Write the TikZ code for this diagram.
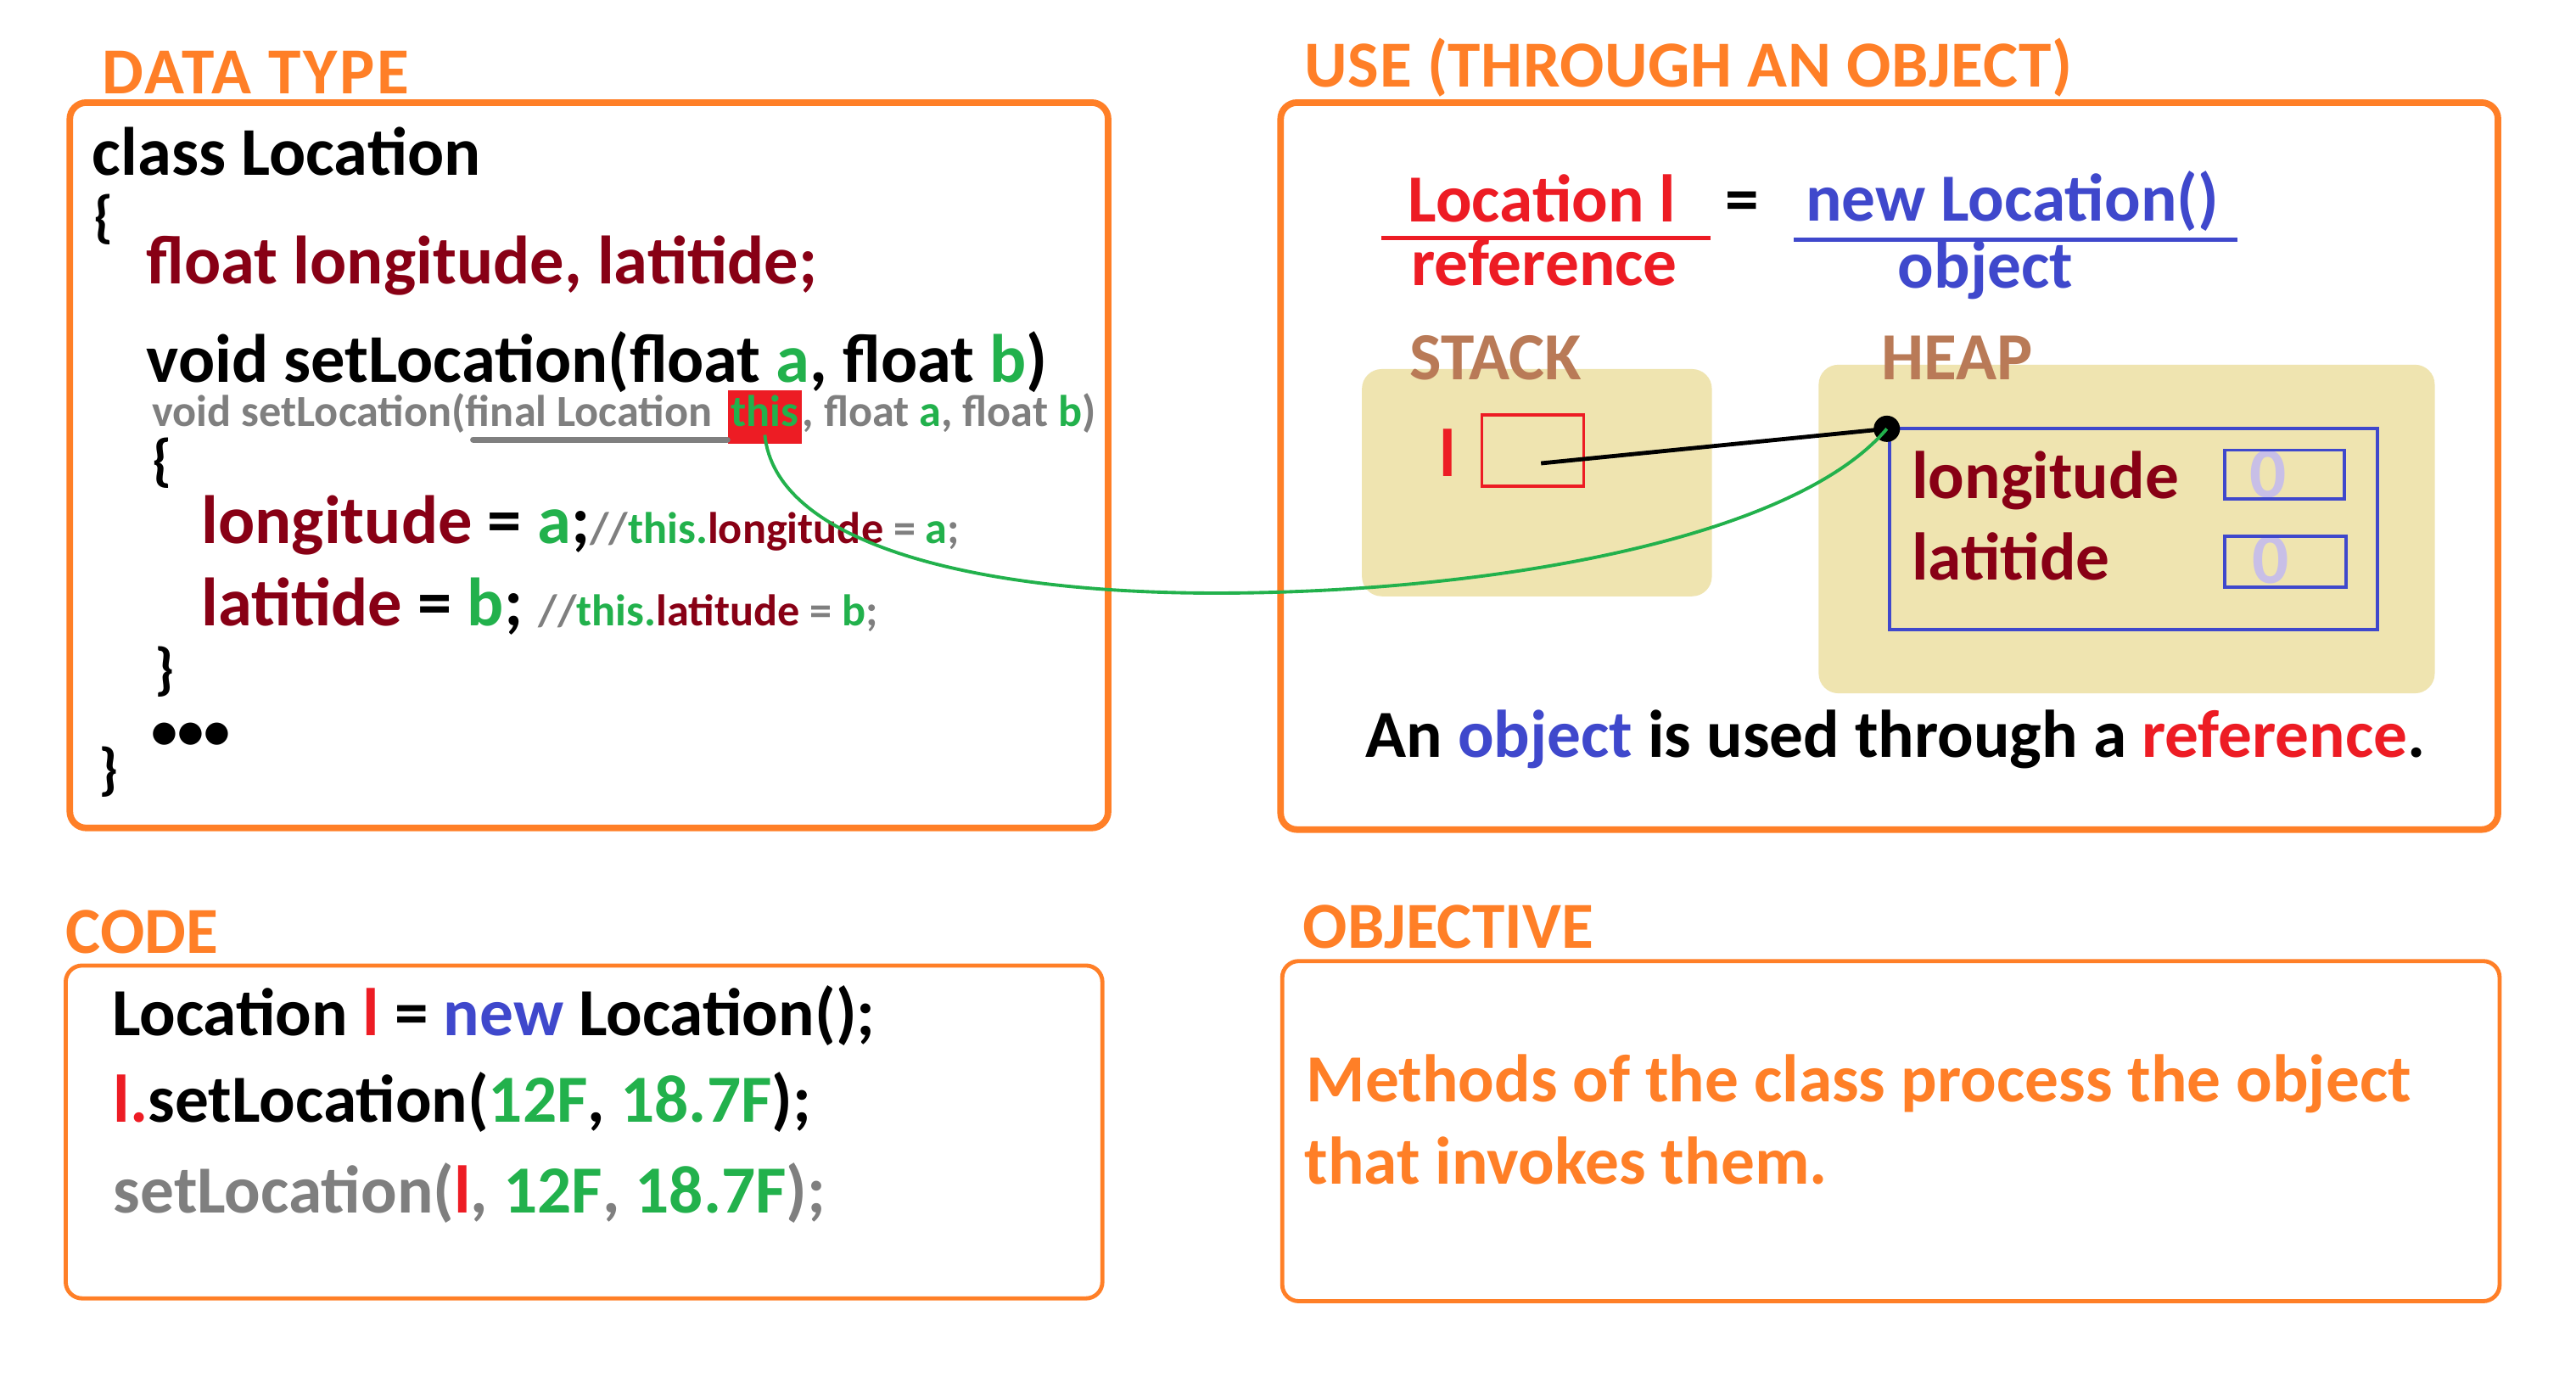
\documentclass[tikz,border=0pt]{standalone}
\usepackage{fontspec}
\setmainfont{Carlito}
\definecolor{orng}{RGB}{255,127,39}
\definecolor{pred}{RGB}{237,28,36}
\definecolor{pgreen}{RGB}{34,177,76}
\definecolor{dred}{RGB}{136,0,21}
\definecolor{indigo}{RGB}{63,72,204}
\definecolor{pgray}{RGB}{127,127,127}
\definecolor{beige}{RGB}{239,228,176}
\definecolor{brown}{RGB}{185,122,87}
\definecolor{lav}{RGB}{200,191,231}
\newcommand{\bigtxt}{\bfseries\fontsize{41}{49}\selectfont}
\newcommand{\codetxt}{\bfseries\fontsize{41.6}{49}\selectfont}
\newcommand{\cmttxt}{\bfseries\fontsize{27}{30}\selectfont}
\begin{document}
\begin{tikzpicture}[x=1pt,y=-1pt,
  txt/.style={anchor=base west, inner sep=0, font=\bigtxt},
  ctxt/.style={anchor=base west, inner sep=0, font=\codetxt},
  brace/.style={anchor=base west, inner sep=0, font=\bfseries\fontsize{35}{40}\selectfont},
  ttl/.style={anchor=base west, inner sep=0, text=orng, font=\bfseries\fontsize{40}{48}\selectfont},
  panel/.style={draw=orng, line width=4, rounded corners=10, inner sep=0},
  panelthin/.style={draw=orng, line width=2.5, rounded corners=10, inner sep=0},
  memory/.style={fill=beige, rounded corners=12, inner sep=0},
  cell/.style={draw=indigo, line width=2, inner sep=0},
  small/.style={anchor=base west, inner sep=0, text=pgray, font=\bfseries\fontsize{27}{30}\selectfont}]
\useasboundingbox (0,0) rectangle (1568,845);
\fill[white] (0,0) rectangle (1568,845);

% panels
\node[panel, minimum width=632, minimum height=441.5] (dtbox) at (358.5,283.2) {};
\node[panel, minimum width=741, minimum height=442.5] (usebox) at (1150,283.7) {};
\node[panelthin, minimum width=631, minimum height=202.6] (codebox) at (355.5,689) {};
\node[panelthin, minimum width=741, minimum height=207] (objbox) at (1151,688.5) {};

% titles
\node[ttl] (t1) at (62,57.2) {\addfontfeature{LetterSpace=3.7}DATA TYPE};
\node[ttl] (t2) at (794,53) {\addfontfeature{LetterSpace=0.8}USE (THROUGH AN OBJECT)};
\node[ttl] (t3) at (40,580.3) {CODE};
\node[ttl] (t4) at (793,577) {OBJECTIVE};

% DATA TYPE content
\node[ctxt] (c1) at (56,106.8) {class Location};
\node[brace] (c2) at (57,144) {\{};
\node[ctxt, text=dred] (c3) at (89,173) {float longitude, latitide;};
\node[ctxt] (c4) at (89,232.8) {void setLocation(float \textcolor{pgreen}{a}, float \textcolor{pgreen}{b})};
\node[small] (g1) at (92.5,259.7) {void setLocation(final Location};
\node[small, fill=pred, text=pgreen, inner xsep=2, text height=22, text depth=10.5] (this) at ([xshift=9]g1.base east) {this};
\node[small] (g2) at (this.base east) {, float \textcolor{pgreen}{a}, float \textcolor{pgreen}{b})};
\draw[pgray, line width=3.7, line cap=round] (288,267.6) -- (this.west |- 0,267.6);
\node[brace] (c5) at (92.5,292) {\{};
\node[ctxt] (c6) at (122.5,331) {\textcolor{dred}{longitude} = \textcolor{pgreen}{a};{\cmttxt\textcolor{pgray}{//}\textcolor{pgreen}{this.}\textcolor{dred}{longitude} \textcolor{pgray}{=} \textcolor{pgreen}{a}\textcolor{pgray}{;}}};
\node[ctxt] (c7) at (122.5,381) {\textcolor{dred}{latitide} = \textcolor{pgreen}{b}; {\cmttxt\textcolor{pgray}{//}\textcolor{pgreen}{this.}\textcolor{dred}{latitude} \textcolor{pgray}{=} \textcolor{pgreen}{b}\textcolor{pgray}{;}}};
\node[brace] (c8) at (94,419) {\}};
\node[anchor=base west, inner sep=0, font=\bfseries\fontsize{32}{36}\selectfont] (c9) at (92,456) {•••};
\node[brace] (c10) at (60,480) {\}};

% USE content
\node[txt, text=pred] (ref1) at (857,135) {Location l};
\node[txt, text=pred] (ref2) at (859,174) {reference};
\draw[pred, line width=2.5] (841,145) -- (1041,145);
\node[txt] (eq) at (1050,135) {=};
\node[txt, text=indigo] (obj1) at (1099,134.6) {new Location()};
\node[txt, text=indigo] (obj2) at (1155,175.6) {object};
\draw[indigo, line width=2.5] (1092,146) -- (1362,146);

\node[memory, minimum width=213, minimum height=138.3] (stack) at (935.5,293.8) {};
\node[memory, minimum width=375, minimum height=200] (heap) at (1294.5,322) {};
\node[txt, text=brown] (stl) at (858,231) {STACK};
\node[txt, text=brown] (hpl) at (1145,231) {HEAP};

\node[txt, text=pred] (lname) at (876,290) {l};
\node[draw=pred, line width=1.8, inner sep=0, minimum width=62, minimum height=43.4] (lbox) at (933,274.3) {};
\node[cell, minimum width=297, minimum height=122] (objrect) at (1298.5,322) {};
\node[txt, text=dred] (f1) at (1163.5,303.5) {longitude};
\node[txt, text=dred] (f2) at (1163.5,352.8) {latitide};
\node[txt, text=lav, font=\bfseries\fontsize{44}{50}\selectfont] (z1) at (1369,303) {0};
\node[txt, text=lav, font=\bfseries\fontsize{44}{50}\selectfont] (z2) at (1371,355) {0};
\node[cell, minimum width=73, minimum height=29.5] (cell1) at (1390.5,288.75) {};
\node[cell, minimum width=74, minimum height=31] (cell2) at (1391,342) {};

\coordinate (lptr) at (938,282);
\node[circle, fill=black, inner sep=0, minimum size=16] (dot) at (1148.5,261) {};
\draw[black, line width=2.5] (lptr) -- (dot.center);
\coordinate (bend) at (740,361);
\draw[pgreen, line width=2] ([yshift=-5pt]this.base) .. controls (472,330) and (590,361) .. (bend) .. controls (900,361) and (1090,330) .. (dot.center);

\node[txt] (sent) at (831,461) {An \textcolor{indigo}{object} is used through a \textcolor{pred}{reference}.};

% CODE content
\node[txt] (k1) at (68,630.5) {Location \textcolor{pred}{l} = \textcolor{indigo}{new} Location();};
\node[txt] (k2) at (69,683) {\textcolor{pred}{l.}setLocation(\textcolor{pgreen}{12F}, \textcolor{pgreen}{18.7F});};
\node[txt, text=pgray] (k3) at (69,738.5) {setLocation(\textcolor{pred}{l}, \textcolor{pgreen}{12F}, \textcolor{pgreen}{18.7F});};

% OBJECTIVE content
\node[txt, text=orng] (o1) at (795,670.4) {Methods of the class process the object};
\node[txt, text=orng] (o2) at (794,720.5) {that invokes them.};
\end{tikzpicture}
\end{document}
